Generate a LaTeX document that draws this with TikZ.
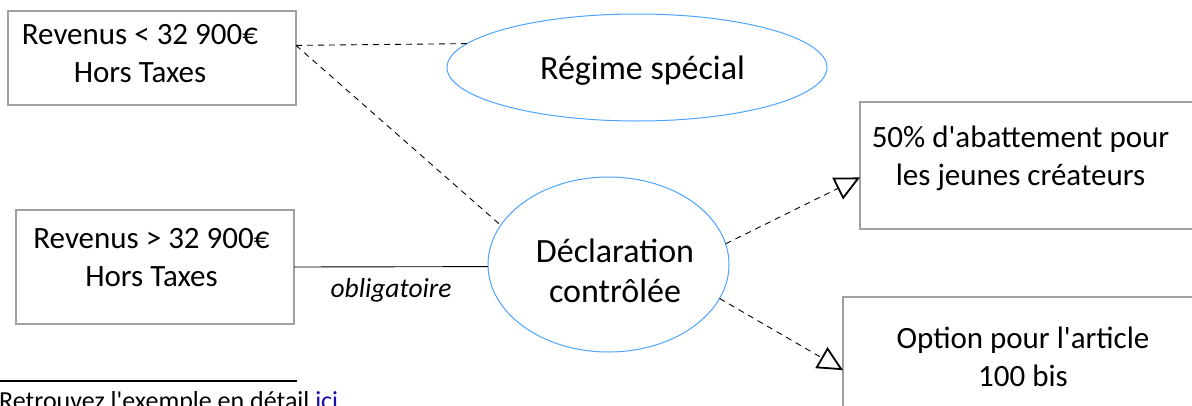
\documentclass[tikz,border=0pt]{standalone}
\usepackage{fontspec}
\setmainfont{Carlito}
\usetikzlibrary{shapes.geometric, arrows.meta}
\definecolor{ellblue}{RGB}{77,163,255}
\definecolor{boxgray}{RGB}{160,160,160}
\definecolor{linkblue}{RGB}{26,13,171}

\begin{document}
\begin{tikzpicture}[x=1pt, y=-1pt,
                    box/.style = {draw=boxgray, line width=1.2pt, inner sep=0pt, outer sep=0pt},
                    ell/.style = {shape=ellipse, draw=ellblue, line width=1pt, inner sep=0pt, outer sep=0pt},
                    boxtext/.style = {anchor=base, align=center, inner sep=0pt, font=\fontsize{31}{37.5}\selectfont},
                    elltext/.style = {anchor=base, align=center, inner sep=0pt, font=\fontsize{34}{40}\selectfont},
                    link/.style = {dash pattern=on 6pt off 5pt, line width=0.9pt},
                    arrowlink/.style = {link, -{Triangle[open, length=25pt, width=24pt, line width=1.8pt]}}]
        \useasboundingbox (0,0) rectangle (1192,405);
        % boxes and ellipses
        \node[box, minimum width=288pt, minimum height=94pt] (rev1) at (152,58) {};
        \node[box, minimum width=278pt, minimum height=114pt] (rev2) at (155,267) {};
        \node[box, minimum width=342pt, minimum height=127pt] (abatt) at (1031,165.5) {};
        \node[box, minimum width=359pt, minimum height=140pt] (option) at (1022.5,367) {};
        \node[ell, minimum width=380pt, minimum height=107pt] (regime) at (637,67.5) {};
        \node[ell, minimum width=241pt, minimum height=175pt] (declar) at (608.5,264.5) {};
        % texts (base = last line)
        \node[boxtext] (rev1txt) at (140,82) {Revenus < 32 900€\\Hors Taxes};
        \node[boxtext] (rev2txt) at (151.5,286) {Revenus > 32 900€\\Hors Taxes};
        \node[boxtext] (abatttxt) at (1020.5,185) {50\% d\textquotesingle abattement pour\\les jeunes créateurs};
        \node[boxtext] (optiontxt) at (1023,386) {Option pour l\textquotesingle article\\100 bis};
        \node[elltext] (regimetxt) at (642.5,79) {Régime spécial};
        \node[elltext] (declartxt) at (615,302) {Déclaration\\contrôlée};
        % connectors
        \draw[link] (rev1.5.2) -- (regime.172.8);
        \draw[link] (rev1.5.2) -- (declar.160.6);
        \draw[line width=0.9pt] (rev2.-0.4) -- node[below=11.5pt, inner sep=0pt, font=\fontsize{27.5}{33}\selectfont\itshape] (oblig) {obligatoire} (declar.181.7);
        \draw[arrowlink] (declar.10) -- (abatt.184.2);
        \draw[arrowlink] (declar.-17) -- (option.181);
        % footnote
        \draw[line width=1.6pt] (0,381) -- (297,381);
        \node[anchor=base west, inner sep=0pt, font=\fontsize{26}{31}\selectfont] (foot) at (-1,409) {Retrouvez l\textquotesingle exemple en détail \textcolor{linkblue}{ici}};
    \end{tikzpicture}
\end{document}
